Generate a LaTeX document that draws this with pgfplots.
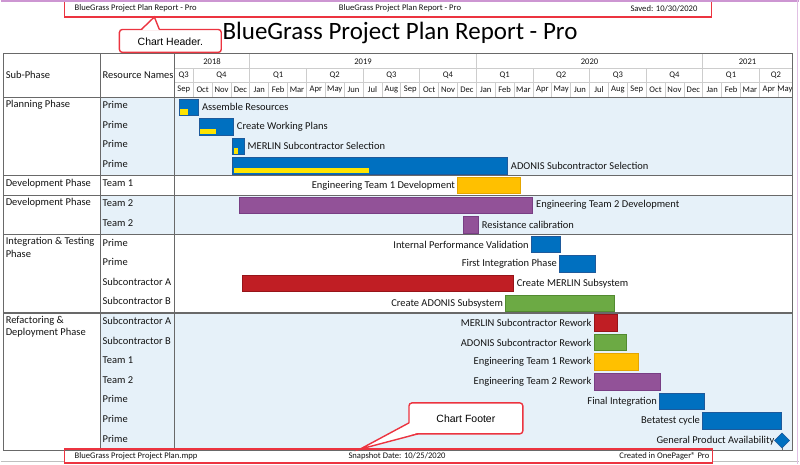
\documentclass[border=0pt]{standalone}
\usepackage{pgfplots}
\pgfplotsset{compat=1.18}
\usepackage{fontspec}
\setmainfont{Carlito}
\newfontfamily\arialf{Liberation Sans}
\definecolor{cblue}{RGB}{0,112,192}
\definecolor{cblueD}{RGB}{30,90,155}
\definecolor{cprog}{RGB}{255,228,0}
\definecolor{cgold}{RGB}{255,192,0}
\definecolor{cgoldD}{RGB}{228,165,0}
\definecolor{cpurple}{RGB}{146,82,152}
\definecolor{cpurpleD}{RGB}{120,62,132}
\definecolor{cred}{RGB}{192,30,36}
\definecolor{credD}{RGB}{150,20,25}
\definecolor{cgreen}{RGB}{108,170,68}
\definecolor{cgreenD}{RGB}{82,138,48}
\definecolor{bgband}{RGB}{230,241,249}
\definecolor{gridgray}{RGB}{205,205,205}
\definecolor{framegray}{RGB}{105,105,105}
\definecolor{callred}{RGB}{236,52,64}
\definecolor{txt}{RGB}{20,20,20}
\definecolor{lav}{RGB}{205,150,210}
\newcommand{\lbl}{\fontsize{10.5bp}{12.5bp}\selectfont}
\newcommand{\tck}{\fontsize{8.6bp}{10bp}\selectfont}
\newcommand{\hf}{\fontsize{8.6bp}{10bp}\selectfont}
\begin{document}
\begin{tikzpicture}[every node/.style={text=txt, inner sep=0pt},
  rl/.style={anchor=west, xshift=3.5bp, font=\lbl},
  ll/.style={anchor=east, xshift=-2.5bp, font=\lbl}]
\begin{scope}[x=1bp,y=-1bp]
\useasboundingbox (0,0) rectangle (800,464);
\fill[white] (0,0) rectangle (800,464);
% background bands
\fill[bgband] (100,97) rectangle (793,175.6);
\fill[bgband] (100,195.2) rectangle (793,234.5);
\fill[bgband] (100,313.0) rectangle (793,450.5);
\end{scope}

\begin{axis}[
  at={(174bp,-450.5bp)}, anchor=south west,
  scale only axis, width=619bp, height=353.5bp,
  xmin=0, xmax=32.75, ymin=0, ymax=18, y dir=reverse,
  hide axis, clip=false,
  every axis plot/.append style={line join=miter, mark=none},
  bbar/.style={fill=cblue, draw=cblueD, line width=0.8bp},
  pbar/.style={fill=cprog, draw=none},
  gbar/.style={fill=cgold, draw=cgoldD, line width=0.8bp},
  ubar/.style={fill=cpurple, draw=cpurpleD, line width=0.8bp},
  rbar/.style={fill=cred, draw=credD, line width=0.8bp},
  vbar/.style={fill=cgreen, draw=cgreenD, line width=0.8bp},
]
% Planning phase
\addplot[bbar] coordinates {(0.25,0.08) (1.27,0.08) (1.27,0.92) (0.25,0.92)} -- cycle;
\addplot[pbar] coordinates {(0.32,0.60) (0.72,0.60) (0.72,0.88) (0.32,0.88)} -- cycle;
\addplot[bbar] coordinates {(1.32,1.08) (3.12,1.08) (3.12,1.92) (1.32,1.92)} -- cycle;
\addplot[pbar] coordinates {(1.38,1.60) (2.22,1.60) (2.22,1.88) (1.38,1.88)} -- cycle;
\addplot[bbar] coordinates {(3.08,2.08) (3.69,2.08) (3.69,2.92) (3.08,2.92)} -- cycle;
\addplot[pbar] coordinates {(3.14,2.60) (3.37,2.60) (3.37,2.88) (3.14,2.88)} -- cycle;
\addplot[bbar] coordinates {(3.08,3.08) (17.64,3.08) (17.64,3.92) (3.08,3.92)} -- cycle;
\addplot[pbar] coordinates {(3.14,3.60) (10.33,3.60) (10.33,3.86) (3.14,3.86)} -- cycle;
% Development
\addplot[gbar] coordinates {(15.01,4.08) (18.34,4.08) (18.34,4.92) (15.01,4.92)} -- cycle;
\addplot[ubar] coordinates {(3.46,5.08) (18.98,5.08) (18.98,5.92) (3.46,5.92)} -- cycle;
\addplot[ubar] coordinates {(15.33,6.08) (16.10,6.08) (16.10,6.92) (15.33,6.92)} -- cycle;
% Integration & testing
\addplot[bbar] coordinates {(18.92,7.08) (20.46,7.08) (20.46,7.92) (18.92,7.92)} -- cycle;
\addplot[bbar] coordinates {(20.41,8.08) (22.31,8.08) (22.31,8.92) (20.41,8.92)} -- cycle;
\addplot[rbar] coordinates {(3.63,9.08) (17.95,9.08) (17.95,9.92) (3.63,9.92)} -- cycle;
\addplot[vbar] coordinates {(17.55,10.08) (23.33,10.08) (23.33,10.92) (17.55,10.92)} -- cycle;
% Refactoring & deployment
\addplot[rbar] coordinates {(22.24,11.08) (23.46,11.08) (23.46,11.92) (22.24,11.92)} -- cycle;
\addplot[vbar] coordinates {(22.24,12.08) (23.93,12.08) (23.93,12.92) (22.24,12.92)} -- cycle;
\addplot[gbar] coordinates {(22.24,13.08) (24.59,13.08) (24.59,13.92) (22.24,13.92)} -- cycle;
\addplot[ubar] coordinates {(22.24,14.08) (25.73,14.08) (25.73,14.92) (22.24,14.92)} -- cycle;
\addplot[bbar] coordinates {(25.71,15.08) (28.06,15.08) (28.06,15.92) (25.71,15.92)} -- cycle;
\addplot[bbar] coordinates {(27.99,16.08) (32.17,16.08) (32.17,16.92) (27.99,16.92)} -- cycle;
\addplot[draw=framegray, line width=0.8bp] coordinates {(32.2,17.7) (32.2,18.02)};
\addplot[only marks, mark=square*, mark size=5.3bp,
  mark options={rotate=45, fill=cblue, draw=cblueD, line width=0.6bp}] coordinates {(32.2,17.5)};
% labels
\node[rl] at (axis cs:1.27,0.5) {Assemble Resources};
\node[rl] at (axis cs:3.12,1.5) {Create Working Plans};
\node[rl] at (axis cs:3.69,2.5) {MERLIN Subcontractor Selection};
\node[rl] at (axis cs:17.64,3.5) {ADONIS Subcontractor Selection};
\node[ll] at (axis cs:15.01,4.5) {Engineering Team 1 Development};
\node[rl] at (axis cs:18.98,5.5) {Engineering Team 2 Development};
\node[rl] at (axis cs:16.10,6.5) {Resistance calibration};
\node[ll] at (axis cs:18.92,7.5) {Internal Performance Validation};
\node[ll] at (axis cs:20.41,8.5) {First Integration Phase};
\node[rl] at (axis cs:17.95,9.5) {Create MERLIN Subsystem};
\node[ll] at (axis cs:17.55,10.5) {Create ADONIS Subsystem};
\node[ll] at (axis cs:22.24,11.5) {MERLIN Subcontractor Rework};
\node[ll] at (axis cs:22.24,12.5) {ADONIS Subcontractor Rework};
\node[ll] at (axis cs:22.24,13.5) {Engineering Team 1 Rework};
\node[ll] at (axis cs:22.24,14.5) {Engineering Team 2 Rework};
\node[ll] at (axis cs:25.71,15.5) {Final Integration};
\node[ll] at (axis cs:27.99,16.5) {Betatest cycle};
\node[ll, xshift=-5bp] at (axis cs:32.2,17.5) {General Product Availability};
\end{axis}

\begin{scope}[x=1bp,y=-1bp]
% timescale grid
\draw[gridgray, line width=0.7bp] (174,68) -- (793,68) (174,82) -- (793,82);
\foreach \m in {1,...,32} \draw[gridgray, line width=0.7bp] ({174+18.9*\m},82) -- ({174+18.9*\m},97);
\foreach \m in {1,4,7,10,13,16,19,22,25,28,31} \draw[gridgray, line width=0.7bp] ({174+18.9*\m},68) -- ({174+18.9*\m},82);
\foreach \m in {4,16,28} \draw[gridgray, line width=0.7bp] ({174+18.9*\m},53) -- ({174+18.9*\m},68);
\foreach \n [count=\i from 0] in {Sep,Oct,Nov,Dec,Jan,Feb,Mar,Apr,May,Jun,Jul,Aug,Sep,Oct,Nov,Dec,Jan,Feb,Mar,Apr,May,Jun,Jul,Aug,Sep,Oct,Nov,Dec,Jan,Feb,Mar,Apr}
  \node[font=\tck] at ({174+18.9*(\i+0.5)},89.5) {\n};
\node[font=\tck] at (785.5,89.5) {May};
\foreach \a/\b/\q in {0/1/Q3,1/4/Q4,4/7/Q1,7/10/Q2,10/13/Q3,13/16/Q4,16/19/Q1,19/22/Q2,22/25/Q3,25/28/Q4,28/31/Q1,31/32.75/Q2}
  \node[font=\tck] at ({174+18.9*(\a+\b)/2},75) {\q};
\foreach \a/\b/\y in {0/4/2018,4/16/2019,16/28/2020,28/32.75/2021}
  \node[font=\tck] at ({174+18.9*(\a+\b)/2},61) {\y};
% frame
\draw[framegray, line width=1.2bp] (3,53) rectangle (793,450.5);
\draw[framegray, line width=1.2bp] (100,53) -- (100,450.5) (174,53) -- (174,450.5);
\foreach \yy in {97,175.6,195.2,234.5,313.0} \draw[framegray, line width=1.2bp] (3,\yy) -- (793,\yy);
% column headers
\node[font=\lbl, anchor=west] at (5,75) {Sub-Phase};
\node[font=\lbl, anchor=west] at (102,75) {Resource Names};
% sub-phase names
\node[font=\lbl, anchor=north west, align=left] at (5,99.5) {Planning Phase};
\node[font=\lbl, anchor=north west, align=left] at (5,178.3) {Development Phase};
\node[font=\lbl, anchor=north west, align=left] at (5,197.9) {Development Phase};
\node[font=\lbl, anchor=north west, align=left] at (5,237.2) {Integration \& Testing\\Phase};
\node[font=\lbl, anchor=north west, align=left] at (5,315.7) {Refactoring \&\\Deployment Phase};
% resource names
\foreach \r/\n in {0/Prime,1/Prime,2/Prime,3/Prime,4/Team 1,5/Team 2,6/Team 2,7/Prime,8/Prime,9/Subcontractor A,10/Subcontractor B,11/Subcontractor A,12/Subcontractor B,13/Team 1,14/Team 2,15/Prime,16/Prime,17/Prime}
  \node[font=\lbl, anchor=west] at (102,{97+19.64*(\r+0.5)-2}) {\n};
% title
\node[font=\fontsize{25bp}{29bp}\selectfont, text=black] at (400,33) {BlueGrass Project Plan Report - Pro};
% header / footer bands
\node[font=\hf, anchor=west] at (74,8) {BlueGrass Project Plan Report - Pro};
\node[font=\hf] at (400,8) {BlueGrass Project Plan Report - Pro};
\node[font=\hf, anchor=east] at (698,8) {Saved: 10/30/2020};
\node[font=\hf, anchor=west] at (74,456.5) {BlueGrass Project Project Plan.mpp};
\node[font=\hf] at (397,456.5) {Snapshot Date: 10/25/2020};
\node[font=\hf, anchor=east] at (710,456.5) {Created in OnePager® Pro};
\draw[lightgray, line width=0.6bp] (0,461.5) -- (64,461.5) (713,461.5) -- (800,461.5);
\draw[callred, line width=1.4bp] (64,1) rectangle (712,16.5);
\draw[callred, line width=1.4bp] (64,449.3) rectangle (713,463.3);
% callouts
\draw[callred, line width=1.4bp, fill=white, rounded corners=3bp] (119,29) rectangle (221,52);
\fill[white] (141,30) -- (154,16.5) -- (159,30) -- cycle;
\draw[callred, line width=1.4bp] (141,29) -- (154,16.5) -- (159,29);
\node[font=\arialf\fontsize{10.5bp}{12bp}\selectfont, text=black] at (170,41) {Chart Header.};
\draw[callred, line width=1.4bp, fill=white, rounded corners=3bp] (409,403) rectangle (523,434);
\fill[white] (410,423) -- (360,449.3) -- (418,433) -- cycle;
\draw[callred, line width=1.4bp] (409,423) -- (360,449.3) -- (418,434);
\node[font=\arialf\fontsize{10.5bp}{12bp}\selectfont, text=black] at (466,418.5) {Chart Footer};
% screen edges
\draw[lav, line width=1.2bp] (0,0.6) -- (800,0.6);
\draw[lav!60, line width=1bp] (798.5,0) -- (798.5,464);
\end{scope}
\end{tikzpicture}
\end{document}
